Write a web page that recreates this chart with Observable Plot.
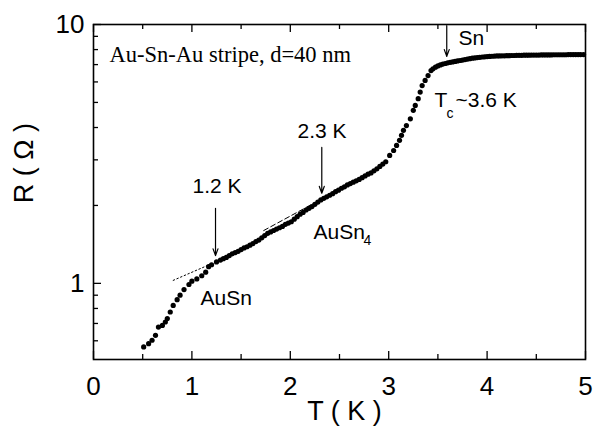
<!DOCTYPE html>
<html><head><meta charset="utf-8">
<script src="https://cdn.jsdelivr.net/npm/d3@7"></script>
<script src="https://cdn.jsdelivr.net/npm/@observablehq/plot@0.6"></script>
<style>body{margin:0;background:#fff}</style>
</head><body><div id="chart"></div>
<script>
// Temperature (K) and resistance (Ohm) readings
const temperature = [
  0.51,0.56,0.595,0.63,0.66,0.70,0.73,0.75,0.78,0.81,0.85,0.88,0.92,0.97,1.00,1.05,1.10,1.14,1.17,1.20,1.25,1.29,
  1.32,1.35,1.38,1.41,1.44,1.47,1.50,1.53,1.56,1.59,1.62,1.65,1.68,1.71,1.74,1.77,1.80,1.83,1.86,1.89,1.92,1.95,1.98,
  2.01,2.04,2.07,2.10,2.13,2.16,2.19,2.22,2.25,2.28,2.31,2.34,2.37,2.40,2.43,2.46,2.49,2.52,2.55,2.58,2.61,2.64,2.67,
  2.70,2.73,2.76,2.79,2.82,2.85,2.88,2.91,2.94,
  2.97,3.01,3.05,3.08,3.11,3.13,3.15,3.18,3.22,3.25,3.27,3.30,3.32,3.34,3.37,3.40,3.43,
  3.45,3.475,3.50,3.525,3.55,3.575,3.60,3.625,3.65,3.675,3.70,3.725,3.75,3.775,3.80,3.825,3.85,3.875,3.90,3.925,3.95,3.975,
  4.00,4.025,4.05,4.075,4.10,4.125,4.15,4.175,4.20,4.225,4.25,4.275,4.30,4.325,4.35,4.375,4.40,4.425,4.45,4.475,
  4.50,4.525,4.55,4.575,4.60,4.625,4.65,4.675,4.70,4.725,4.75,4.775,4.80,4.825,4.85,4.875,4.90,4.925,4.95,4.98
];
const resistance = [
  0.568,0.585,0.603,0.63,0.678,0.688,0.709,0.731,0.775,0.822,0.865,0.90,0.946,0.99,1.02,1.04,1.07,1.105,1.16,1.18,1.21,1.23,
  1.245,1.26,1.28,1.30,1.315,1.33,1.35,1.37,1.385,1.405,1.425,1.45,1.47,1.50,1.53,1.56,1.58,1.60,1.62,1.64,1.66,1.69,1.71,
  1.73,1.77,1.81,1.85,1.88,1.92,1.95,1.98,2.02,2.06,2.10,2.13,2.16,2.19,2.22,2.26,2.29,2.33,2.36,2.40,2.43,2.46,2.49,
  2.52,2.56,2.60,2.64,2.67,2.72,2.77,2.83,2.89,
  2.95,3.12,3.26,3.41,3.57,3.73,3.90,4.07,4.32,4.66,4.87,5.17,5.48,5.81,6.08,6.35,6.64,
  6.74,6.84,6.92,6.98,7.03,7.07,7.11,7.14,7.17,7.20,7.23,7.26,7.29,7.32,7.35,7.38,7.41,7.43,7.45,7.47,7.49,7.50,
  7.52,7.53,7.54,7.55,7.56,7.56,7.57,7.57,7.58,7.58,7.59,7.59,7.60,7.60,7.60,7.61,7.61,7.61,7.62,7.62,
  7.62,7.62,7.63,7.63,7.63,7.63,7.63,7.64,7.64,7.64,7.64,7.64,7.64,7.65,7.65,7.65,7.65,7.65,7.65,7.65
];

// Fit guide lines (T, R endpoints)
const ausnFitT = [0.81, 1.22];
const ausnFitR = [1.027, 1.20];
const ausn4FitT = [1.73, 2.59];
const ausn4FitR = [1.60, 2.41];

// Arrows: T, R start, R end
const arrowT = [1.24, 2.32, 3.59];
const arrowR1 = [1.95, 3.35, 9.9];
const arrowR2 = [1.28, 2.23, 7.53];

// Ticks
const xMajor = [0, 1, 2, 3, 4, 5];
const xMinor = [0.5, 1.5, 2.5, 3.5, 4.5];
const yMajor = [1, 10];
const yMinor = [0.6, 0.7, 0.8, 0.9, 2, 3, 4, 5, 6, 7, 8, 9];

// Labels (left edge T, baseline R, text)
const labelT = [1.006, 2.073, 1.087, 2.236, 3.71, 3.466, 3.679];
const labelR = [2.23, 3.63, 0.822, 1.49, 8.30, 4.78, 4.78];
const labelText = ["1.2 K", "2.3 K", "AuSn", "AuSn", "Sn", "T", "~3.6 K"];
const subT = [2.744, 3.587];
const subR = [1.41, 4.37];
const subText = ["4", "c"];
const titleText = "Au-Sn-Au stripe, d=40 nm";
const titleT = 0.163, titleR = 7.15;
const xTitle = "T ( K )", yTitle = "R ( Ω )";
const yTitleR = 2.04;

const W = 594, H = 435, mL = 93, mR = 9, mT = 24, mB = 76;
const pw = W - mL - mR, ph = H - mT - mB;

const data = temperature.map((t, i) => ({T: t, R: resistance[i]}));
const idx = (a) => a.map((_, i) => i);

const chart = Plot.plot({
  width: W, height: H,
  marginLeft: mL, marginRight: mR, marginTop: mT, marginBottom: mB,
  style: {fontFamily: "'Liberation Sans', Arial, sans-serif", background: "#fff", color: "#000"},
  x: {domain: [0, 5], axis: null},
  y: {type: "log", domain: [0.508, 10], axis: null},
  marks: [
    // ticks (inward)
    Plot.tickX(xMajor, {x: d => d, insetTop: ph - 8, stroke: "#000", strokeWidth: 1.3}),
    Plot.tickX(xMinor, {x: d => d, insetTop: ph - 5, stroke: "#000", strokeWidth: 1.3}),
    Plot.tickX(xMajor, {x: d => d, insetBottom: ph - 8, stroke: "#000", strokeWidth: 1.3}),
    Plot.tickX(xMinor, {x: d => d, insetBottom: ph - 5, stroke: "#000", strokeWidth: 1.3}),
    Plot.tickY(yMajor, {y: d => d, insetRight: pw - 8, stroke: "#000", strokeWidth: 1.3}),
    Plot.tickY(yMinor, {y: d => d, insetRight: pw - 5, stroke: "#000", strokeWidth: 1.3}),
    // fit lines
    Plot.line(idx(ausnFitT), {x: i => ausnFitT[i], y: i => ausnFitR[i], stroke: "#000", strokeWidth: 1, strokeDasharray: "1.5,2.5"}),
    Plot.line(idx(ausn4FitT), {x: i => ausn4FitT[i], y: i => ausn4FitR[i], stroke: "#000", strokeWidth: 1, strokeDasharray: "5,3"}),
    // data
    Plot.dot(data, {x: "T", y: "R", r: 2.6, fill: "#000", stroke: null}),
    // arrows
    Plot.arrow(idx(arrowT), {x1: i => arrowT[i], x2: i => arrowT[i], y1: i => arrowR1[i], y2: i => arrowR2[i],
      stroke: "#000", strokeWidth: 1.2, headLength: 9, headAngle: 40, insetStart: 0, insetEnd: 0}),
    // labels
    Plot.text(idx(labelT), {x: i => labelT[i], y: i => labelR[i], text: i => labelText[i],
      textAnchor: "start", lineAnchor: "bottom", fontSize: 21, fill: "#000"}),
    Plot.text(idx(subT), {x: i => subT[i], y: i => subR[i], text: i => subText[i],
      textAnchor: "start", lineAnchor: "bottom", fontSize: 14, fill: "#000"}),
    Plot.text([titleText], {x: titleT, y: titleR, text: d => d, textAnchor: "start", lineAnchor: "bottom",
      fontSize: 22.5, fontFamily: "'Liberation Serif', 'Times New Roman', serif", fill: "#000"}),
    // tick labels
    Plot.text(xMajor, {x: d => d, frameAnchor: "bottom", dy: 17, lineAnchor: "top", text: d => String(d), fontSize: 26, fill: "#000"}),
    Plot.text(yMajor, {y: d => d, frameAnchor: "left", dx: -9, textAnchor: "end", text: d => String(d), fontSize: 26, fill: "#000"}),
    // axis titles
    Plot.text([xTitle], {frameAnchor: "bottom", dy: 41, dx: 5, lineAnchor: "top", text: d => d, fontSize: 27, fill: "#000"}),
    Plot.text([yTitle], {y: () => yTitleR, frameAnchor: "left", dx: -69, rotate: -90, text: d => d, fontSize: 27, fill: "#000"}),
    Plot.frame({stroke: "#000", strokeWidth: 1.6})
  ]
});
document.getElementById("chart").appendChild(chart);
</script>
</body></html>
